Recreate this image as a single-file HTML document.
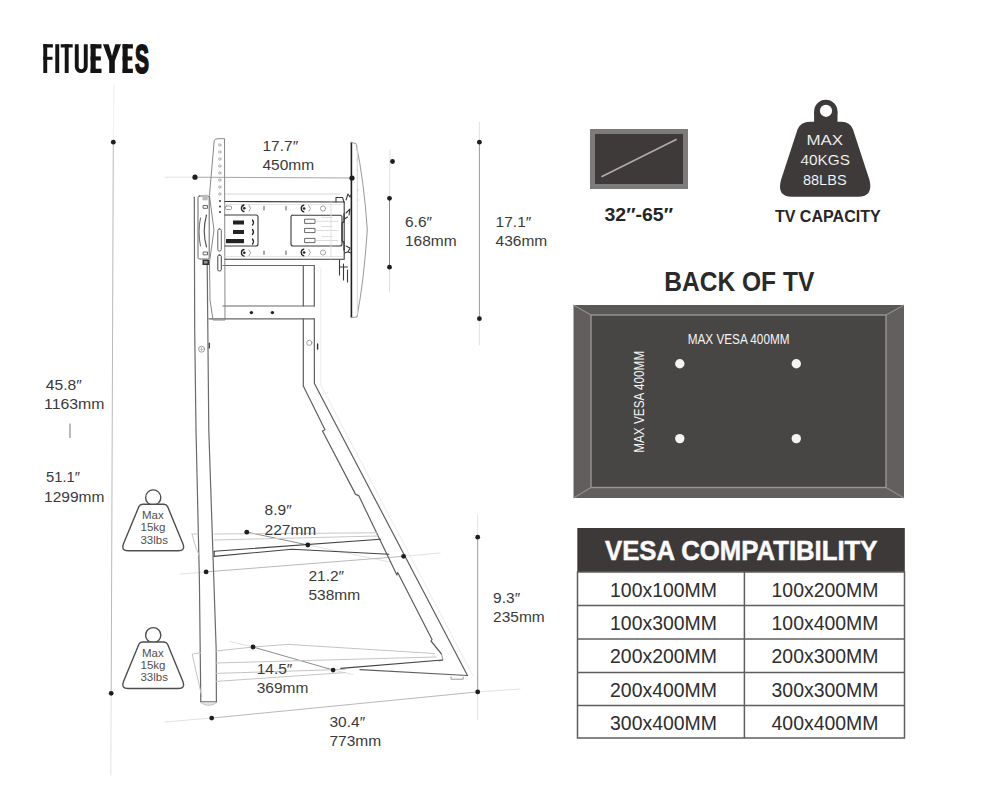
<!DOCTYPE html>
<html><head><meta charset="utf-8">
<style>
html,body{margin:0;padding:0;background:#fff;width:1000px;height:800px;overflow:hidden}
svg{position:absolute;left:0;top:0;display:block}
text{font-family:"Liberation Sans",sans-serif}
</style></head>
<body>
<svg width="1000" height="800" viewBox="0 0 1000 800">
<!-- LOGO -->
<g fill="#141414">
<rect x="43.3" y="44.2" width="3.9" height="28.8"/>
<rect x="43.3" y="44.2" width="9.6" height="3.3"/>
<rect x="43.3" y="56.8" width="9.2" height="3"/>
<rect x="55.3" y="44.2" width="3.9" height="28.8"/>
<rect x="60.7" y="44.2" width="12" height="3.3"/>
<rect x="64.75" y="44.2" width="3.9" height="28.8"/>
<path d="M74.8 44.2 V66.6 A6.45 6.45 0 0 0 87.7 66.6 V44.2 H83.8 V66.6 A2.55 2.55 0 0 1 78.7 66.6 V44.2 Z"/>
<rect x="90.6" y="44.2" width="5.1" height="28.8"/>
<rect x="90.6" y="44.2" width="10.9" height="4.3"/>
<rect x="90.6" y="56.4" width="10.2" height="4.1"/>
<rect x="90.6" y="68.7" width="10.9" height="4.3"/>
<polygon points="103,44.2 108.7,44.2 112,56 115.3,44.2 121,44.2 114.8,61 114.8,73 109.2,73 109.2,61"/>
<rect x="122.6" y="44.2" width="5.1" height="28.8"/>
<rect x="122.6" y="44.2" width="10.3" height="4.3"/>
<rect x="122.6" y="56.4" width="9.7" height="4.1"/>
<rect x="122.6" y="68.7" width="10.3" height="4.3"/>
<text transform="translate(134.930 72.55) scale(0.5144 1)" x="0" y="0" font-size="40.55" font-weight="bold" stroke="#141414" stroke-width="1.75" style="vector-effect:non-scaling-stroke">S</text>
</g>

<!-- RIGHT SIDE: TV icon -->
<rect x="590" y="129" width="98" height="60" fill="#7c7a7a"/>
<rect x="595" y="134" width="88" height="50" fill="#3e3a3a"/>
<line x1="601.5" y1="176.8" x2="676.7" y2="139.3" stroke="#b3abab" stroke-width="1.6"/>
<text x="604.5" y="221.1" font-size="19" font-weight="bold" fill="#262626" textLength="68.5" lengthAdjust="spacingAndGlyphs">32″-65″</text>

<!-- weight icon -->
<g fill="#3e3a3a">
<circle cx="825.8" cy="111.5" r="11.7"/>
<rect x="814.1" y="111.5" width="23.4" height="12"/>
<path d="M810 121.8 H841.5 Q850 121.8 853 129.5 L869.5 180 Q873.5 196.7 858 196.7 H792 Q776.5 196.7 781 180 L797.5 129.5 Q800.5 121.8 810 121.8 Z"/>
</g>
<circle cx="826" cy="110.8" r="6.1" fill="#fff"/>
<g fill="#ffffff" font-size="15" text-anchor="middle" stroke="#3e3a3a" stroke-width="0.15">
<text x="824.75" y="145.1" textLength="36.7" lengthAdjust="spacingAndGlyphs">MAX</text>
<text x="825.3" y="165.3" textLength="49.5" lengthAdjust="spacingAndGlyphs">40KGS</text>
<text x="824.8" y="184.5" textLength="43.7" lengthAdjust="spacingAndGlyphs">88LBS</text>
</g>
<text x="774.9" y="222.1" font-size="16" font-weight="bold" fill="#262626" textLength="105.8" lengthAdjust="spacingAndGlyphs">TV CAPACITY</text>

<!-- BACK OF TV -->
<text x="664.3" y="290.6" font-size="28.5" font-weight="bold" fill="#2a2a2a" textLength="150" lengthAdjust="spacingAndGlyphs">BACK OF TV</text>
<polygon points="573.5,305 904,305 886,315 591,315" fill="#5a5757"/>
<polygon points="573.5,305 591,315 591,487.5 573.5,498" fill="#625e5e"/>
<polygon points="904,305 886,315 886,487.5 904,498" fill="#645f5f"/>
<polygon points="573.5,498 591,487.5 886,487.5 904,498" fill="#625e5e"/>
<rect x="591" y="315" width="295" height="172.5" fill="#484545" stroke="#9a9696" stroke-width="1.4"/>
<g stroke="#8f8b8b" stroke-width="1.2">
<line x1="573.5" y1="305" x2="591" y2="315"/>
<line x1="904" y1="305" x2="886" y2="315"/>
<line x1="573.5" y1="498" x2="591" y2="487.5"/>
<line x1="904" y1="498" x2="886" y2="487.5"/>
</g>
<g fill="#f4f4f4">
<text x="687.7" y="344" font-size="14" textLength="101.8" lengthAdjust="spacingAndGlyphs">MAX VESA 400MM</text>
<text transform="translate(644.3 452.8) rotate(-90)" x="0" y="0" font-size="14" textLength="102" lengthAdjust="spacingAndGlyphs">MAX VESA 400MM</text>
<circle cx="679.8" cy="363.7" r="4.7"/>
<circle cx="796.3" cy="363.7" r="4.7"/>
<circle cx="679.8" cy="438.6" r="4.7"/>
<circle cx="796.3" cy="438.6" r="4.7"/>
</g>

<!-- VESA TABLE -->
<rect x="577.3" y="528" width="327.5" height="44" fill="#3d3939"/>
<text x="605" y="559.7" font-size="27" font-weight="bold" fill="#fafafa" stroke="#fafafa" stroke-width="0.5" textLength="272.5" lengthAdjust="spacingAndGlyphs">VESA COMPATIBILITY</text>
<g fill="none" stroke="#5e5e5e" stroke-width="1.5">
<rect x="577.5" y="572" width="327" height="166"/>
<line x1="577.5" y1="605.6" x2="904.5" y2="605.6"/>
<line x1="577.5" y1="639" x2="904.5" y2="639"/>
<line x1="577.5" y1="672.4" x2="904.5" y2="672.4"/>
<line x1="577.5" y1="705.6" x2="904.5" y2="705.6"/>
<line x1="744.4" y1="572" x2="744.4" y2="738"/>
</g>
<g fill="#2e2e2e" font-size="20.5" text-anchor="middle">
<text x="663.5" y="596.8" textLength="107" lengthAdjust="spacingAndGlyphs">100x100MM</text>
<text x="825" y="596.8" textLength="107" lengthAdjust="spacingAndGlyphs">100x200MM</text>
<text x="663.5" y="630.1" textLength="107" lengthAdjust="spacingAndGlyphs">100x300MM</text>
<text x="825" y="630.1" textLength="107" lengthAdjust="spacingAndGlyphs">100x400MM</text>
<text x="663.5" y="663.3" textLength="107" lengthAdjust="spacingAndGlyphs">200x200MM</text>
<text x="825" y="663.3" textLength="107" lengthAdjust="spacingAndGlyphs">200x300MM</text>
<text x="663.5" y="696.5" textLength="107" lengthAdjust="spacingAndGlyphs">200x400MM</text>
<text x="825" y="696.5" textLength="107" lengthAdjust="spacingAndGlyphs">300x300MM</text>
<text x="663.5" y="729.7" textLength="107" lengthAdjust="spacingAndGlyphs">300x400MM</text>
<text x="825" y="729.7" textLength="107" lengthAdjust="spacingAndGlyphs">400x400MM</text>
</g>

<!-- STAND DRAWING placeholder -->

<g id="stand" fill="none" stroke-linecap="round" stroke-linejoin="round">
<!-- faint dimension lines -->
<g stroke="#e2e2e2" stroke-width="1">
<line x1="114" y1="85" x2="113.3" y2="142" stroke="#eeeeee"/>
<line x1="111.2" y1="693" x2="110.8" y2="775"/>
<line x1="165" y1="177.2" x2="195" y2="177.2"/>
<line x1="390" y1="150" x2="389.5" y2="198"/>
<line x1="389.5" y1="267" x2="389.5" y2="292"/>
<line x1="479.4" y1="122" x2="479.4" y2="142"/>
<line x1="479.4" y1="319" x2="479.4" y2="345"/>
<line x1="477.7" y1="515" x2="477.7" y2="537"/>
<line x1="477.7" y1="692" x2="477.7" y2="720"/>
<line x1="403.6" y1="556.3" x2="440" y2="553"/>
<line x1="211.7" y1="718" x2="165" y2="722"/>
<line x1="477.7" y1="692" x2="520" y2="689"/>
<line x1="307.8" y1="545" x2="390" y2="562"/>
<line x1="230" y1="641.5" x2="253" y2="647"/>
<line x1="333" y1="670" x2="353" y2="674.4"/>
<line x1="206" y1="572" x2="180" y2="574"/>
</g>
<g stroke="#b9b9b9" stroke-width="1">
<line x1="113.3" y1="142.2" x2="111.2" y2="693.3"/>
<line x1="195" y1="177.2" x2="352" y2="178" stroke="#a5a5a5"/>
<line x1="479.4" y1="142.2" x2="479.4" y2="318.7" stroke="#9a9a9a"/>
<line x1="477.7" y1="537.2" x2="477.7" y2="691.9" stroke="#9a9a9a"/>
<line x1="206.1" y1="571.9" x2="403.6" y2="556.3"/>
<line x1="211.7" y1="718.1" x2="477.7" y2="691.9"/>
</g>
<g stroke="#8c8c8c" stroke-width="1">
<line x1="246.9" y1="532.1" x2="307.8" y2="545"/>
<line x1="253" y1="647" x2="333" y2="670"/>
</g>
<line x1="389.5" y1="198.3" x2="389.5" y2="267.2" stroke="#8a8a8a" stroke-width="1"/>
<line x1="70" y1="424" x2="70" y2="437.5" stroke="#777" stroke-width="1"/>

<!-- left post -->
<g stroke="#6a6a6a" stroke-width="1.2">
<polyline points="194.3,197 194.7,330 196,430 199.4,580 200.8,701.8"/>
<polyline points="207.2,265 208.8,430 211.8,520 216.2,650 216.4,701.8"/>
<line x1="200.8" y1="701.8" x2="216.4" y2="701.8"/>
</g>
<path d="M200.5 702.5 Q208.5 708.5 217 702.5" fill="#e4e4e4" stroke="#c4c4c4" stroke-width="1"/>
<circle cx="201.6" cy="349.2" r="3" stroke="#8a8a8a" stroke-width="0.8"/>
<path d="M200 349.2 h3.2 M201.6 347.6 v3.2" stroke="#999" stroke-width="0.6"/>
<path d="M209.3 343 v5" stroke="#333" stroke-width="1.2"/>

<!-- back upright and slanted leg -->
<g stroke="#5e5e5e" stroke-width="1.2">
<path d="M314.3 265.5 V306 M314.3 318.8 L314.4 383.5 L467.5 675.5"/>
<path d="M303.3 265.5 V306 M303.3 318.8 L303.3 386 L325 429.8 L322.5 431 L355.6 494.4 L358.7 495.6 L396.9 575 L397.7 572.5 L432 639.6 L431 641 L441.5 654"/>
<line x1="360" y1="669.6" x2="467.5" y2="675.5"/>
</g>
<g stroke="#ececec" stroke-width="1">
<path d="M320.8 268 L320.8 385 L473 676"/>
</g>
<g stroke="#999" stroke-width="1">
<path d="M441.5 654 l1.5 6 l-4 1"/>
<path d="M451 676.8 v2.4 h12.2 v-2"/>
</g>
<circle cx="309.3" cy="342.8" r="2.6" stroke="#8a8a8a" stroke-width="0.8"/>
<path d="M317.6 344 v5" stroke="#333" stroke-width="1.4"/>

<!-- crossbar -->
<g stroke="#666" stroke-width="1.2">
<line x1="223" y1="306" x2="314.3" y2="306"/>
<line x1="209" y1="318.8" x2="314.3" y2="318.8"/>
<line x1="223" y1="265.5" x2="314.3" y2="265.5"/>
</g>
<circle cx="251.4" cy="312.6" r="1.7" fill="#222"/>
<circle cx="272.4" cy="312.6" r="1.7" fill="#222"/>

<!-- TV left rail -->
<line x1="225" y1="194" x2="340" y2="194" stroke="#d8d8d8" stroke-width="1"/>
<g stroke="#888" stroke-width="1">
<path d="M214.5 140 Q215.5 138.7 218 138.7 L224.5 138.7 L225 320 L213 320 L210 300 L209.5 262 L214 230 L209.5 196 Z"/>
</g>
<g fill="none" stroke="#a0a0a0" stroke-width="0.8"><circle cx="219.8" cy="145" r="1.2"/><circle cx="219.8" cy="152" r="1.2"/><circle cx="219.8" cy="159" r="1.2"/><circle cx="219.8" cy="166" r="1.2"/><circle cx="219.8" cy="173" r="1.2"/><circle cx="219.8" cy="180" r="1.2"/><circle cx="219.8" cy="187" r="1.2"/><circle cx="219.8" cy="194" r="1.2"/></g>
<g fill="#333"><circle cx="220" cy="201" r="1"/><circle cx="220" cy="206.5" r="1"/><circle cx="220" cy="212" r="1"/></g>
<rect x="217.8" y="229" width="3.5" height="22" rx="1.5" stroke="#666" stroke-width="1"/>
<rect x="217.8" y="255" width="3.5" height="16" rx="1.5" stroke="#444" stroke-width="1"/>

<!-- left clamp -->
<g stroke="#666" stroke-width="1">
<rect x="198" y="196" width="11.2" height="63" rx="1.5"/>
<path d="M200.5 218 Q197.5 232 200.5 246"/>
<path d="M206.5 215 Q202 231 206.5 247" stroke="#555" stroke-width="1.2"/>
<rect x="203.5" y="205.5" width="4" height="2.8"/>
<rect x="203.5" y="252" width="4" height="2.8"/>
</g>
<rect x="202.5" y="194.8" width="5.2" height="5.5" fill="#bbb"/>
<rect x="202.5" y="259.7" width="6.7" height="5.3" fill="#333"/>
<rect x="204" y="261" width="3.5" height="2.5" fill="#999"/>

<!-- mount plate -->
<g stroke="#3a3a3a" stroke-width="1.1">
<line x1="225" y1="201.5" x2="344" y2="202"/>
<line x1="225" y1="259.3" x2="344" y2="259.3"/>
<line x1="344.2" y1="202" x2="344.2" y2="259"/>
<path d="M225 215 H256 q2 0 2 2 V244 q0 2 -2 2 H225"/>
<path d="M293 215.2 H340 q2 0 2 2 V244 q0 2 -2 2 H293 q-2 0 -2 -2 V217 q0 -2 2 -2z"/>
</g>
<g stroke="#888" stroke-width="0.8">
<line x1="225" y1="204.5" x2="342" y2="204.5" stroke="#e0e0e0"/>
<line x1="225" y1="256.5" x2="342" y2="256.5" stroke="#e0e0e0"/>
<rect x="305" y="219.2" width="10" height="4.2" stroke="#444"/>
<rect x="305" y="228.4" width="10" height="4.2" stroke="#444"/>
<rect x="305" y="238.4" width="10" height="4.2" stroke="#444"/>
<path d="M316 221.3 H338 M316 230.5 H338 M316 240.5 H338 M322 217.5 h10 M322 226.5 h10 M322 236.5 h10" stroke="#d4d4d4"/>
<rect x="225.5" y="206" width="6" height="3.5" rx="1"/>
</g>
<g fill="#222">
<circle cx="244.3" cy="208.3" r="1.3"/><circle cx="244.3" cy="252.8" r="1.3"/>
<circle cx="304.1" cy="208.5" r="1.3"/><circle cx="304.1" cy="252.5" r="1.3"/>
<rect x="233" y="220.5" width="11" height="4"/>
<rect x="233" y="230" width="11" height="4"/>
<rect x="226" y="239" width="18" height="4.2"/>
</g>
<g stroke="#222" stroke-width="1.3">
<path d="M252.5 220 q2 2.5 0 5"/><path d="M252.5 229.5 q2 2.5 0 5"/><path d="M252.5 239 q2 2.5 0 5"/>
</g>

<g stroke="#222" stroke-width="1.3" fill="none">
<path d="M244 205 a3.4 3.4 0 0 0 0 6.6"/><path d="M244 249.5 a3.4 3.4 0 0 0 0 6.6"/>
<path d="M303.8 205.2 a3.4 3.4 0 0 0 0 6.6"/><path d="M303.8 249.2 a3.4 3.4 0 0 0 0 6.6"/>
</g>
<g stroke="#999" stroke-width="0.9" fill="none">
<path d="M249 205.5 l1.6 2.8 l-1.6 2.8"/><path d="M249 250 l1.6 2.8 l-1.6 2.8"/>
<path d="M308.8 205.7 l1.6 2.8 l-1.6 2.8"/><path d="M308.8 249.7 l1.6 2.8 l-1.6 2.8"/>
<path d="M264 206.5 v3.5 M264 251 v3.5 M286 206.5 v3.5 M286 251 v3.5" stroke="#444"/>
<circle cx="323" cy="208.5" r="2.6"/><circle cx="323" cy="252.5" r="2.6"/>
<line x1="331" y1="202.5" x2="331" y2="259" stroke="#ddd"/>
</g>
<!-- right rail -->
<line x1="351.4" y1="142.5" x2="351.4" y2="317.5" stroke="#222" stroke-width="1.6"/>
<path d="M351.4 142.5 L356 143.5 Q364 180 367.3 230 Q364 280 357 317 L351.4 317.5" stroke="#999" stroke-width="1"/>
<line x1="357.3" y1="146" x2="357.3" y2="314" stroke="#d6d6d6" stroke-width="1"/>
<g fill="#ccc"><circle cx="356.5" cy="150" r="0.8"/><circle cx="357" cy="160" r="0.8"/><circle cx="357.5" cy="170" r="0.8"/><circle cx="358" cy="190" r="0.8"/><circle cx="358" cy="200" r="0.8"/></g>
<g stroke="#3a3a3a" stroke-width="1.1">
<path d="M336 202 v-4.5 h6.5 l1.5 4.5"/>
<path d="M346 200 l2 -6 l2 3 l1 -2"/>
<path d="M346 213 l4 -4 l-1 6 M344.5 219 l3 -2"/>
<path d="M346 246 l4 2 l-2 4 l3 1"/>
<path d="M344.5 253 l3 -1"/>
<path d="M339.5 260 v15 M343.5 264 v16 M347.5 270 v12 M339.5 267 h8"/>
<path d="M344 214 v8 q-2 0 -2 2 v16 q0 2 2 2 v8" stroke-width="1.3"/>
</g>

<!-- shelf 1 -->
<g stroke="#444" stroke-width="1.1">
<line x1="214.2" y1="551.2" x2="380.4" y2="539.2"/>
<polyline points="214.2,556.4 292,549.2 388.8,554.2"/>
<line x1="214.2" y1="551.2" x2="214.2" y2="556.4"/>
</g>
<g stroke="#c8c8c8" stroke-width="1">
<line x1="214" y1="534" x2="377" y2="532.8"/>
<line x1="214" y1="540" x2="378" y2="536"/>
<line x1="192" y1="534" x2="198" y2="534"/>
<path d="M192 534 L196 548 L199 555"/>
</g>

<!-- bottom base shelf -->
<g stroke="#c4c4c4" stroke-width="1">
<polyline points="216.2,651 253,647 288,644.4 434.4,653.5"/>
<line x1="216.2" y1="663" x2="436" y2="657"/>
<line x1="216.2" y1="673.4" x2="345" y2="669.4"/>
<line x1="216.2" y1="681.4" x2="345" y2="672.6"/>
<path d="M201 652.6 L192.2 654.2 L201.8 696.6"/>
</g>
<g stroke="#444" stroke-width="1.1">
<line x1="340.8" y1="668.4" x2="442.5" y2="660"/>
</g>

<!-- dots -->
<g fill="#1e1e1e">
<circle cx="113.3" cy="142.2" r="2.4"/>
<circle cx="111.2" cy="693.3" r="2.4"/>
<circle cx="195" cy="177.2" r="2.6"/>
<circle cx="352" cy="178" r="2.6"/>
<circle cx="392.5" cy="161.5" r="2.4"/>
<circle cx="389.5" cy="198.3" r="2.4"/>
<circle cx="389.5" cy="267.2" r="2.4"/>
<circle cx="479.4" cy="142.2" r="2.4"/>
<circle cx="479.4" cy="318.7" r="2.4"/>
<circle cx="477.7" cy="537.2" r="2.4"/>
<circle cx="477.7" cy="691.9" r="2.4"/>
<circle cx="246.8" cy="532.2" r="2.4"/>
<circle cx="307.8" cy="545" r="2.4"/>
<circle cx="403.6" cy="556.3" r="2.4"/>
<circle cx="206.1" cy="571.9" r="2.4"/>
<circle cx="253" cy="647" r="2.4"/>
<circle cx="333.1" cy="670.1" r="2.4"/>
<circle cx="211.7" cy="718.1" r="2.4"/>
</g>

<!-- small weight icons -->
<g stroke="#4e4e4e" stroke-width="1.4">
<circle cx="153.2" cy="497.5" r="7.6" fill="#fff"/>
<path d="M142.5 504.3 H164 q2.5 0 3.6 2.3 L183 544 q2.4 6.8 -4.6 6.8 H128 q-7 0 -4.6 -6.8 L138.9 506.6 q1.1 -2.3 3.6 -2.3z" fill="#fff"/>
</g>
<g transform="translate(0 137.7)">
<circle cx="153.2" cy="497.5" r="7.6" fill="#fff" stroke="#4e4e4e" stroke-width="1.4"/>
<path d="M142.5 504.3 H164 q2.5 0 3.6 2.3 L183 544 q2.4 6.8 -4.6 6.8 H128 q-7 0 -4.6 -6.8 L138.9 506.6 q1.1 -2.3 3.6 -2.3z" fill="#fff" stroke="#4e4e4e" stroke-width="1.4"/>
</g>
</g>

<!-- stand text labels -->
<g fill="#3a3a3a" font-size="15.5">
<text x="262.5" y="151.3">17.7″</text><text x="262.5" y="169.7">450mm</text>
<text x="405" y="226.7">6.6″</text><text x="405" y="246.3">168mm</text>
<text x="495.6" y="226.7">17.1″</text><text x="495.6" y="246.3">436mm</text>
<text x="45.8" y="389.6" textLength="35.9" lengthAdjust="spacingAndGlyphs">45.8″</text><text x="44" y="408.9" textLength="60.4" lengthAdjust="spacingAndGlyphs">1163mm</text>
<text x="46" y="482" textLength="34" lengthAdjust="spacingAndGlyphs">51.1″</text><text x="44" y="501.7" textLength="60.4" lengthAdjust="spacingAndGlyphs">1299mm</text>
<text x="264.6" y="515">8.9″</text><text x="264.6" y="534.5">227mm</text>
<text x="308.4" y="581">21.2″</text><text x="308.4" y="599.6">538mm</text>
<text x="493.1" y="603.2">9.3″</text><text x="493.1" y="622">235mm</text>
<text x="256.7" y="674.2">14.5″</text><text x="256.7" y="692.6">369mm</text>
<text x="329.5" y="727.2">30.4″</text><text x="329.5" y="745.6">773mm</text>
</g>
<g fill="#505050" font-size="11.5" text-anchor="middle">
<text x="152.8" y="519.2">Max</text><text x="153" y="531.4">15kg</text><text x="154.2" y="543.6">33lbs</text>
<g transform="translate(0 137.7)"><text x="152.8" y="519.2">Max</text><text x="153" y="531.4">15kg</text><text x="154.2" y="543.6">33lbs</text></g>
</g>
</svg>
</body></html>
